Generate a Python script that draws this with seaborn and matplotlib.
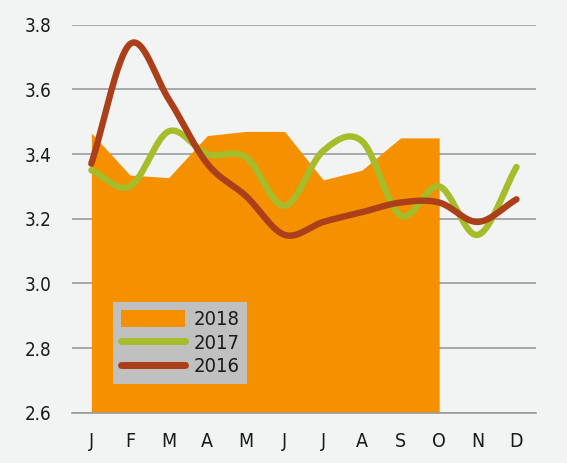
import numpy as np
import pandas as pd
import matplotlib
matplotlib.use("Agg")
import matplotlib.pyplot as plt
from matplotlib.patches import Patch
from matplotlib.lines import Line2D
import seaborn as sns

# Dados
meses = ["J", "F", "M", "A", "M", "J", "J", "A", "S", "O", "N", "D"]
valores_2018 = [3.465, 3.335, 3.327, 3.457, 3.47, 3.47, 3.32, 3.35, 3.45, 3.45]
valores_2017 = [3.35, 3.30, 3.47, 3.40, 3.39, 3.24, 3.41, 3.44, 3.21, 3.30, 3.15, 3.36]
valores_2016 = [3.37, 3.74, 3.57, 3.37, 3.27, 3.15, 3.19, 3.22, 3.25, 3.25, 3.19, 3.26]

cor_fundo = "#f2f4f4"
cor_2018 = "#f59100"
cor_2017 = "#a6bc2b"
cor_2016 = "#aa3f1a"
cor_grade = "#9c9c9c"
cor_texto = "#1a1a1a"


# Curva suavizada (Catmull-Rom) passando pelos pontos, como no Excel
def suavizar(y, n=30):
    x = np.arange(len(y), dtype=float)
    p = np.column_stack([x, np.asarray(y, dtype=float)])
    p = np.vstack([p[0] - (p[1] - p[0]), p, p[-1] + (p[-1] - p[-2])])
    pontos = []
    for i in range(1, len(p) - 2):
        p0, p1, p2, p3 = p[i - 1], p[i], p[i + 1], p[i + 2]
        t = np.linspace(0, 1, n, endpoint=(i == len(p) - 3))[:, None]
        seg = 0.5 * ((2 * p1) + (-p0 + p2) * t + (2 * p0 - 5 * p1 + 4 * p2 - p3) * t ** 2
                     + (-p0 + 3 * p1 - 3 * p2 + p3) * t ** 3)
        pontos.append(seg)
    c = np.vstack(pontos)
    return pd.DataFrame({"x": c[:, 0], "y": c[:, 1]})


sns.set_theme(style="white")
plt.rcParams["font.family"] = ["DejaVu Sans"]
plt.rcParams["font.stretch"] = "condensed"
plt.rcParams["text.color"] = cor_texto
plt.rcParams["xtick.labelcolor"] = cor_texto
plt.rcParams["ytick.labelcolor"] = cor_texto

fig = plt.figure(figsize=(5.67, 4.63), dpi=100, facecolor=cor_fundo)
ax = fig.add_axes([0.127, 0.1086, 0.818, 0.8381], facecolor=cor_fundo)

# Área 2018
x18 = np.arange(len(valores_2018))
ax.fill_between(x18, 2.6, valores_2018, color=cor_2018, linewidth=0, zorder=2)

# Linhas 2017 e 2016
sns.lineplot(data=suavizar(valores_2017), x="x", y="y", ax=ax, color=cor_2017,
             linewidth=4.6, sort=False, zorder=3, solid_capstyle="round")
sns.lineplot(data=suavizar(valores_2016), x="x", y="y", ax=ax, color=cor_2016,
             linewidth=4.6, sort=False, zorder=4, solid_capstyle="round")

# Eixos
ax.set_xlim(-0.5, 11.5)
ax.set_ylim(2.6, 3.8)
ax.set_yticks(np.arange(2.6, 3.81, 0.2))
ax.set_yticklabels([f"{v:.1f}" for v in np.arange(2.6, 3.81, 0.2)], fontsize=13.5)
ax.set_xticks(range(12))
ax.set_xticklabels(meses, fontsize=14)
ax.set_xticks(np.arange(-0.5, 12, 1), minor=True)
ax.tick_params(axis="x", which="major", length=0, pad=14)
ax.tick_params(axis="x", which="minor", length=7, width=1.2, color=cor_grade, direction="out")
ax.tick_params(axis="y", length=0, pad=15)
ax.grid(axis="y", color=cor_grade, linewidth=1.2, zorder=1)
ax.set_axisbelow(True)
ax.set_xlabel("")
ax.set_ylabel("")
for s in ["top", "right", "left"]:
    ax.spines[s].set_visible(False)
ax.spines["bottom"].set_color(cor_grade)
ax.spines["bottom"].set_linewidth(1.2)
ax.spines["bottom"].set_zorder(5)

# Legenda
handles = [Patch(facecolor=cor_2018, edgecolor="none"),
           Line2D([], [], color=cor_2017, linewidth=5, solid_capstyle="round"),
           Line2D([], [], color=cor_2016, linewidth=5, solid_capstyle="round")]
leg = ax.legend(handles, ["2018", "2017", "2016"], loc="upper left",
                bbox_to_anchor=(0.088, 0.285), borderaxespad=0, fontsize=14.5,
                frameon=True, fancybox=False, facecolor="#c0c0c0", edgecolor="none",
                framealpha=1, handlelength=3.2, handleheight=0.9, labelspacing=0.2,
                handletextpad=0.4, borderpad=0.4)
leg.set_zorder(6)

fig.savefig("out.png", dpi=100, facecolor=cor_fundo)
